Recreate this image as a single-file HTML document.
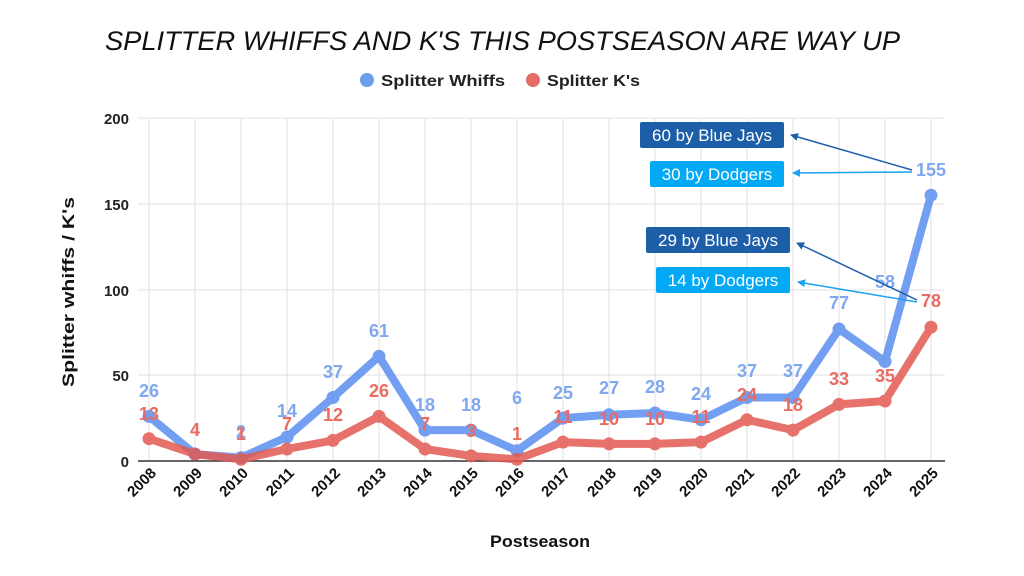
<!DOCTYPE html>
<html><head><meta charset="utf-8"><style>
html,body{margin:0;padding:0;background:#fff;}
svg{display:block;font-family:"Liberation Sans",Arial,sans-serif;}
</style></head><body>
<svg width="1024" height="576" viewBox="0 0 1024 576" xmlns="http://www.w3.org/2000/svg">
<defs>
<marker id="ad" markerWidth="8" markerHeight="8" refX="7" refY="4" orient="auto" markerUnits="userSpaceOnUse"><path d="M0,0 L8,4 L0,8 z" fill="#1c5ea8"/></marker>
<marker id="al" markerWidth="8" markerHeight="8" refX="7" refY="4" orient="auto" markerUnits="userSpaceOnUse"><path d="M0,0 L8,4 L0,8 z" fill="#1aa3f0"/></marker>
</defs>
<text x="105" y="50" font-size="27" font-style="italic" fill="#111" textLength="795" lengthAdjust="spacingAndGlyphs">SPLITTER WHIFFS AND K'S THIS POSTSEASON ARE WAY UP</text>
<circle cx="367" cy="80" r="7" fill="#6d9eeb"/>
<text x="381" y="86" font-size="16" font-weight="bold" fill="#222" textLength="124" lengthAdjust="spacingAndGlyphs">Splitter Whiffs</text>
<circle cx="533" cy="80" r="7" fill="#e66c66"/>
<text x="547" y="86" font-size="16" font-weight="bold" fill="#222" textLength="93" lengthAdjust="spacingAndGlyphs">Splitter K's</text>
<g stroke="#e0e0e0" stroke-width="1">
<line x1="138" y1="118" x2="945" y2="118"/><line x1="138" y1="204" x2="945" y2="204"/><line x1="138" y1="290" x2="945" y2="290"/><line x1="138" y1="375" x2="945" y2="375"/>
<line x1="149" y1="118" x2="149" y2="461"/><line x1="195" y1="118" x2="195" y2="461"/><line x1="241" y1="118" x2="241" y2="461"/><line x1="287" y1="118" x2="287" y2="461"/><line x1="333" y1="118" x2="333" y2="461"/><line x1="379" y1="118" x2="379" y2="461"/><line x1="425" y1="118" x2="425" y2="461"/><line x1="471" y1="118" x2="471" y2="461"/><line x1="517" y1="118" x2="517" y2="461"/><line x1="563" y1="118" x2="563" y2="461"/><line x1="609" y1="118" x2="609" y2="461"/><line x1="655" y1="118" x2="655" y2="461"/><line x1="701" y1="118" x2="701" y2="461"/><line x1="747" y1="118" x2="747" y2="461"/><line x1="793" y1="118" x2="793" y2="461"/><line x1="839" y1="118" x2="839" y2="461"/><line x1="885" y1="118" x2="885" y2="461"/><line x1="931" y1="118" x2="931" y2="461"/>
</g>
<line x1="138" y1="461" x2="945" y2="461" stroke="#333" stroke-width="1.5"/>
<g font-size="15" font-weight="bold" fill="#222" text-anchor="end">
<text x="129" y="124">200</text><text x="129" y="210">150</text><text x="129" y="296">100</text><text x="129" y="381">50</text><text x="129" y="467">0</text>
</g>
<text transform="translate(74,292) rotate(-90)" font-size="17" font-weight="bold" text-anchor="middle" fill="#111" textLength="190" lengthAdjust="spacingAndGlyphs">Splitter whiffs / K's</text>
<text x="540" y="547" font-size="17" font-weight="bold" text-anchor="middle" fill="#111" textLength="100" lengthAdjust="spacingAndGlyphs">Postseason</text>
<g font-size="15" font-weight="bold" fill="#111" text-anchor="end">
<text transform="translate(157,474) rotate(-45)">2008</text><text transform="translate(203,474) rotate(-45)">2009</text><text transform="translate(249,474) rotate(-45)">2010</text><text transform="translate(295,474) rotate(-45)">2011</text><text transform="translate(341,474) rotate(-45)">2012</text><text transform="translate(387,474) rotate(-45)">2013</text><text transform="translate(433,474) rotate(-45)">2014</text><text transform="translate(479,474) rotate(-45)">2015</text><text transform="translate(525,474) rotate(-45)">2016</text><text transform="translate(571,474) rotate(-45)">2017</text><text transform="translate(617,474) rotate(-45)">2018</text><text transform="translate(663,474) rotate(-45)">2019</text><text transform="translate(709,474) rotate(-45)">2020</text><text transform="translate(755,474) rotate(-45)">2021</text><text transform="translate(801,474) rotate(-45)">2022</text><text transform="translate(847,474) rotate(-45)">2023</text><text transform="translate(893,474) rotate(-45)">2024</text><text transform="translate(939,474) rotate(-45)">2025</text>
</g>
<g opacity="0.85">
<polyline fill="none" stroke="#5a8ff0" stroke-width="8" stroke-linejoin="round" points="149,416.4 195,454.1 241,457.6 287,437 333,397.5 379,356.4 425,430.1 471,430.1 517,450.7 563,418.1 609,414.7 655,413 701,419.8 747,397.5 793,397.5 839,329 885,361.5 931,195.2"/>
<g fill="#5a8ff0"><circle cx="149" cy="416.4" r="6.5"/><circle cx="195" cy="454.1" r="6.5"/><circle cx="241" cy="457.6" r="6.5"/><circle cx="287" cy="437" r="6.5"/><circle cx="333" cy="397.5" r="6.5"/><circle cx="379" cy="356.4" r="6.5"/><circle cx="425" cy="430.1" r="6.5"/><circle cx="471" cy="430.1" r="6.5"/><circle cx="517" cy="450.7" r="6.5"/><circle cx="563" cy="418.1" r="6.5"/><circle cx="609" cy="414.7" r="6.5"/><circle cx="655" cy="413" r="6.5"/><circle cx="701" cy="419.8" r="6.5"/><circle cx="747" cy="397.5" r="6.5"/><circle cx="793" cy="397.5" r="6.5"/><circle cx="839" cy="329" r="6.5"/><circle cx="885" cy="361.5" r="6.5"/><circle cx="931" cy="195.2" r="6.5"/></g>
</g>
<g opacity="0.85">
<polyline fill="none" stroke="#e25a52" stroke-width="8" stroke-linejoin="round" points="149,438.7 195,454.1 241,459.3 287,449 333,440.4 379,416.4 425,449 471,455.9 517,459.3 563,442.1 609,443.9 655,443.9 701,442.1 747,419.8 793,430.1 839,404.4 885,401 931,327.2"/>
<g fill="#e25a52"><circle cx="149" cy="438.7" r="6.5"/><circle cx="195" cy="454.1" r="6.5"/><circle cx="241" cy="459.3" r="6.5"/><circle cx="287" cy="449" r="6.5"/><circle cx="333" cy="440.4" r="6.5"/><circle cx="379" cy="416.4" r="6.5"/><circle cx="425" cy="449" r="6.5"/><circle cx="471" cy="455.9" r="6.5"/><circle cx="517" cy="459.3" r="6.5"/><circle cx="563" cy="442.1" r="6.5"/><circle cx="609" cy="443.9" r="6.5"/><circle cx="655" cy="443.9" r="6.5"/><circle cx="701" cy="442.1" r="6.5"/><circle cx="747" cy="419.8" r="6.5"/><circle cx="793" cy="430.1" r="6.5"/><circle cx="839" cy="404.4" r="6.5"/><circle cx="885" cy="401" r="6.5"/><circle cx="931" cy="327.2" r="6.5"/></g>
</g>
<g font-size="18" font-weight="bold" fill="#7fa8f0" text-anchor="middle">
<text x="149" y="397">26</text><text x="241" y="438">2</text><text x="287" y="417">14</text><text x="333" y="378">37</text><text x="379" y="337">61</text><text x="425" y="411">18</text><text x="471" y="411">18</text><text x="517" y="404">6</text><text x="563" y="399">25</text><text x="609" y="394">27</text><text x="655" y="393">28</text><text x="701" y="400">24</text><text x="747" y="377">37</text><text x="793" y="377">37</text><text x="839" y="309">77</text><text x="885" y="288">58</text><text x="931" y="176">155</text>
</g>
<g font-size="18" font-weight="bold" fill="#ea6b62" text-anchor="middle">
<text x="149" y="420">13</text><text x="195" y="436">4</text><text x="241" y="440">1</text><text x="287" y="430">7</text><text x="333" y="421">12</text><text x="379" y="397">26</text><text x="425" y="430">7</text><text x="471" y="437">3</text><text x="517" y="440">1</text><text x="563" y="423">11</text><text x="609" y="425">10</text><text x="655" y="425">10</text><text x="701" y="423">11</text><text x="747" y="401">24</text><text x="793" y="411">18</text><text x="839" y="385">33</text><text x="885" y="382">35</text><text x="931" y="307">78</text>
</g>
<line x1="912" y1="170" x2="791" y2="135" stroke="#1c5ea8" stroke-width="1.5" marker-end="url(#ad)"/>
<line x1="912" y1="172" x2="793" y2="173" stroke="#1aa3f0" stroke-width="1.5" marker-end="url(#al)"/>
<line x1="917" y1="300" x2="797" y2="243" stroke="#1c5ea8" stroke-width="1.5" marker-end="url(#ad)"/>
<line x1="917" y1="302" x2="798" y2="282" stroke="#1aa3f0" stroke-width="1.5" marker-end="url(#al)"/>
<rect x="640" y="122" width="144" height="26" rx="2" fill="#1c5ea8"/>
<text x="712" y="141" font-size="17" fill="#fff" text-anchor="middle">60 by Blue Jays</text>
<rect x="650" y="161" width="134" height="26" rx="2" fill="#03a9f4"/>
<text x="717" y="180" font-size="17" fill="#fff" text-anchor="middle">30 by Dodgers</text>
<rect x="646" y="227" width="144" height="26" rx="2" fill="#1c5ea8"/>
<text x="718" y="246" font-size="17" fill="#fff" text-anchor="middle">29 by Blue Jays</text>
<rect x="656" y="267" width="134" height="26" rx="2" fill="#03a9f4"/>
<text x="723" y="286" font-size="17" fill="#fff" text-anchor="middle">14 by Dodgers</text>
</svg>
</body></html>
